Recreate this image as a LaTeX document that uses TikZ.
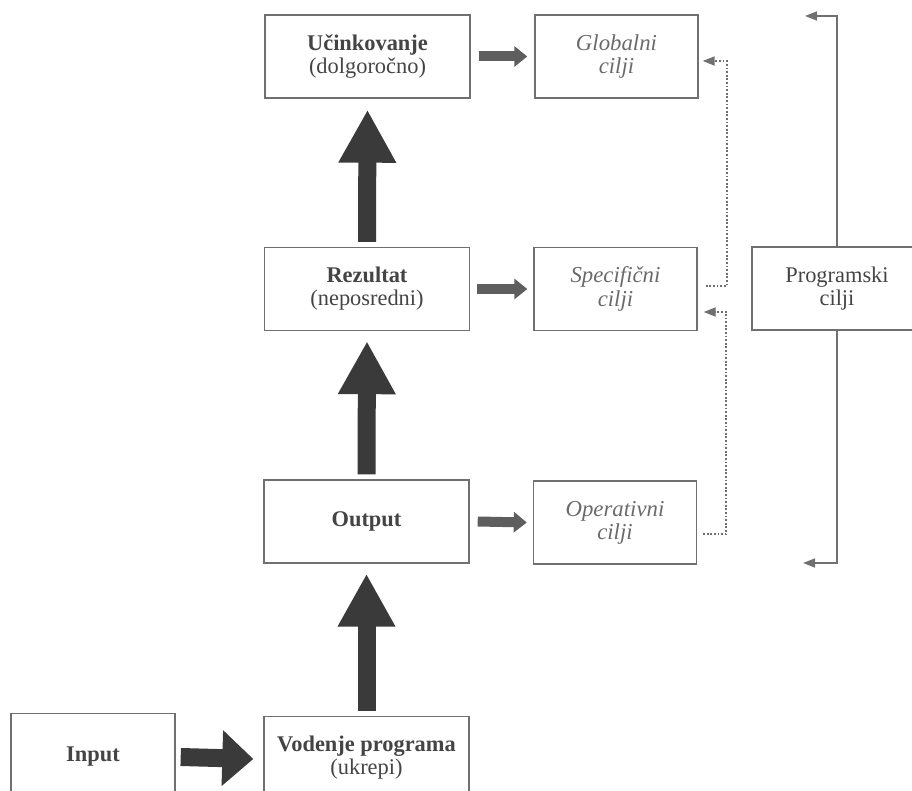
\documentclass[tikz,border=0pt]{standalone}
\usepackage{fontspec}
\setmainfont{Liberation Serif}
\usetikzlibrary{arrows.meta}
\definecolor{boxgray}{HTML}{707070}
\definecolor{txtgray}{HTML}{444444}
\definecolor{italgray}{HTML}{6A6A6A}
\definecolor{arrowdark}{HTML}{3A3A3A}
\definecolor{arrowmid}{HTML}{5E5E5E}
\begin{document}
\begin{tikzpicture}[x=0.5pt,y=-0.5pt,
    box/.style={draw=boxgray, line width=0.7pt, text=txtgray, align=center, inner sep=2pt, font=\fontsize{11.2}{11.6}\selectfont},
    mainbox/.style={box, minimum width=102.5pt, minimum height=41.5pt},
    ciljbox/.style={box, minimum width=81.5pt, minimum height=41.5pt, text=italgray, font=\fontsize{11.4}{11.6}\selectfont\itshape},
    thickup/.style={draw=arrowdark, line width=9pt, -{Triangle[length=26.5pt,width=27pt]}},
    thickright/.style={draw=arrowdark, line width=9pt, -{Triangle[length=15.5pt,width=27pt]}},
    thinright/.style={draw=arrowmid, line width=5pt, -{Triangle[length=6.5pt,width=10pt]}},
    progline/.style={draw=boxgray, line width=0.8pt, -{Triangle[length=6pt,width=4.5pt]}},
    dotline/.style={draw=boxgray, line width=0.9pt, dash pattern=on 0.9pt off 0.9pt, -{Triangle[length=6pt,width=4.5pt]}}]
\useasboundingbox (0,0) rectangle (912,791);

\node[mainbox] (ucinek) at (367.5,56.5) {\textbf{Učinkovanje}\\(dolgoročno)};
\node[mainbox] (rezultat) at (367,289) {\textbf{Rezultat}\\(neposredni)};
\node[mainbox] (output) at (366.5,521.5) {\textbf{Output}};
\node[mainbox] (vodenje) at (366.5,758) {\textbf{Vodenje programa}\\(ukrepi)};
\node[box, minimum width=82pt, minimum height=43.5pt] (input) at (93,757) {\textbf{Input}};

\node[ciljbox] (globalni) at (616.5,56.5) {Globalni\\cilji};
\node[ciljbox] (specificni) at (615.5,289) {Specifični\\cilji};
\node[ciljbox] (operativni) at (615,522.5) {Operativni\\cilji};
\node[box, minimum width=85pt, minimum height=41.5pt] (programski) at (837,288.5) {Programski\\cilji};

\draw[thickright] ([xshift=2.5pt]input.east) -- ([xshift=-5pt,yshift=-0.5pt]vodenje.west);
\draw[thickup] ([yshift=2.5pt]vodenje.north) -- ([yshift=-5pt]output.south);
\draw[thickup] ([yshift=2.5pt]output.north) -- ([yshift=-5pt]rezultat.south);
\draw[thickup] ([yshift=2.5pt]rezultat.north) -- ([yshift=-5.5pt]ucinek.south);

\draw[thinright] ([xshift=4pt]ucinek.east) -- ([xshift=-3.5pt]globalni.west);
\draw[thinright] ([xshift=3.5pt]rezultat.east) -- ([xshift=-3pt]specificni.west);
\draw[thinright] ([xshift=4pt]output.east) -- ([xshift=-3pt]operativni.west);

\draw[dotline] ([xshift=4pt,yshift=1.5pt]specificni.east) -- ++(21,0) |- ([xshift=2pt,yshift=-2.25pt]globalni.east);
\draw[dotline] ([xshift=3pt,yshift=-5.75pt]operativni.east) -- ++(23,0) |- ([xshift=3pt,yshift=-11.5pt]specificni.east);

\coordinate (ptop) at (805,16);
\coordinate (pbot) at (803,563);
\draw[progline] (programski.north) |- (ptop);
\draw[progline] (programski.south) |- (pbot);
\end{tikzpicture}
\end{document}
